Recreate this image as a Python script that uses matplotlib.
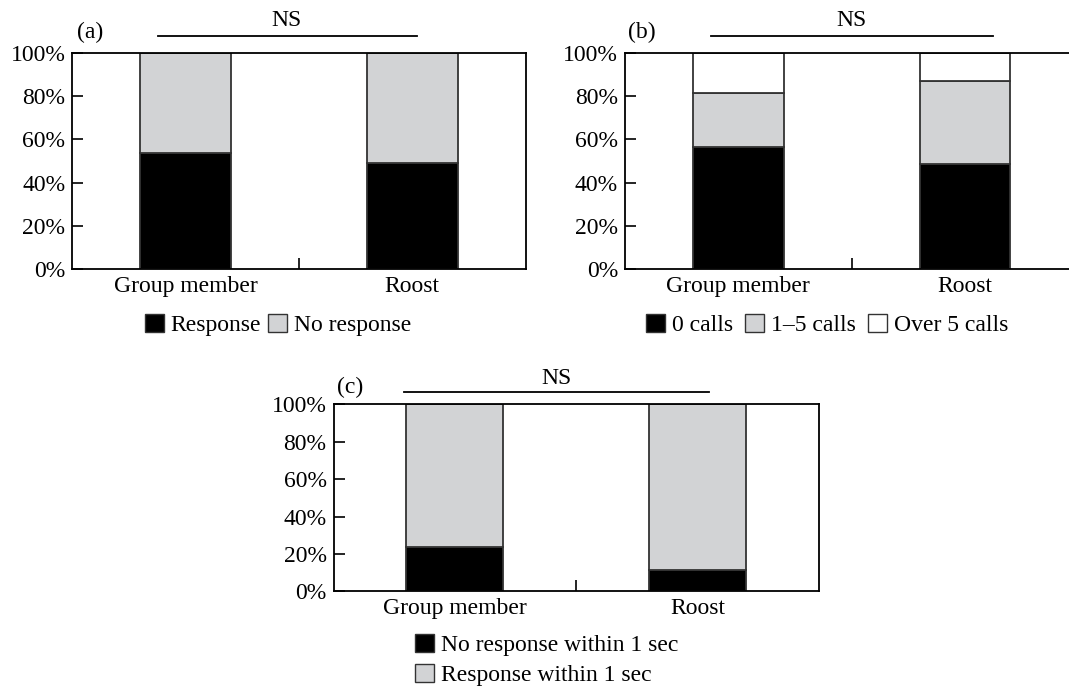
import matplotlib
matplotlib.use("Agg")
import matplotlib.pyplot as plt
import matplotlib.transforms as mtransforms
from matplotlib.patches import Patch
from matplotlib.ticker import FixedLocator, FuncFormatter

plt.rcParams["font.family"] = ["Liberation Serif", "DejaVu Serif"]
plt.rcParams["font.size"] = 17

# stimulus categories
categories = ["Group member", "Roost"]

# (a) response to playback (%)
a_response = [53.6, 49.2]
a_no_response = [46.4, 50.8]

# (b) number of calls (%)
b_zero = [56.5, 48.7]
b_one_to_five = [24.9, 38.3]
b_over_five = [18.6, 13.0]

# (c) response latency (%)
c_no_resp_1s = [23.5, 11.2]
c_resp_1s = [76.5, 88.8]

BLACK = "#000000"
GREY = "#d2d3d5"
WHITE = "#ffffff"
EDGE = "#333333"


def stack(ax, series, colors, width=0.4):
    x = range(len(categories))
    bottom = [0] * len(categories)
    for vals, col in zip(series, colors):
        ax.bar(x, vals, width, bottom=bottom, color=col, edgecolor=EDGE, linewidth=1.3)
        bottom = [b + v for b, v in zip(bottom, vals)]


def style_axes(ax):
    ax.set_xlim(-0.5, 1.5)
    ax.set_ylim(0, 100)
    ax.set_xticks([0, 1])
    ax.set_xticklabels(categories)
    ax.tick_params(axis="x", which="major", length=0, pad=5)
    ax.xaxis.set_minor_locator(FixedLocator([0.5]))
    ax.tick_params(axis="x", which="minor", direction="in", length=8, width=1.2)
    ax.set_yticks([0, 20, 40, 60, 80, 100])
    ax.yaxis.set_major_formatter(FuncFormatter(lambda v, p: f"{v:.0f}%"))
    ax.tick_params(axis="y", direction="in", length=8, width=1.2, pad=5)
    for s in ax.spines.values():
        s.set_linewidth(1.3)


def ns_bar(ax, x0, x1, y_line, x_text, y_text):
    trans = mtransforms.blended_transform_factory(ax.transData, ax.transAxes)
    ax.plot([x0, x1], [y_line, y_line], color="black", linewidth=1.3,
            transform=trans, clip_on=False)
    ax.text(x_text, y_text, "NS", transform=trans, ha="center", va="center")


fig = plt.figure(figsize=(10.69, 6.92), dpi=100)

# ---- (a)
ax_a = fig.add_axes([0.0676, 0.6117, 0.4241, 0.3113])
stack(ax_a, [a_response, a_no_response], [BLACK, GREY])
style_axes(ax_a)
ns_bar(ax_a, -0.12, 1.02, 1.082, 0.446, 1.15)
ax_a.text(0.039, 1.099, "(a)", transform=ax_a.transAxes, ha="center", va="center")
ax_a.legend(handles=[Patch(facecolor=BLACK, edgecolor=EDGE, label="Response"),
                     Patch(facecolor=GREY, edgecolor=EDGE, label="No response")],
            loc="center", bbox_to_anchor=(0.454, -0.261), ncol=2, frameon=False,
            handlelength=0.8, handleheight=0.8, handletextpad=0.3, columnspacing=0.3,
            borderaxespad=0, borderpad=0)

# ---- (b)
ax_b = fig.add_axes([0.5847, 0.6117, 0.4238, 0.3113])
stack(ax_b, [b_zero, b_one_to_five, b_over_five], [BLACK, GREY, WHITE])
style_axes(ax_b)
ns_bar(ax_b, -0.122, 1.124, 1.082, 0.499, 1.15)
ax_b.text(0.037, 1.099, "(b)", transform=ax_b.transAxes, ha="center", va="center")
ax_b.legend(handles=[Patch(facecolor=BLACK, edgecolor=EDGE, label="0 calls"),
                     Patch(facecolor=GREY, edgecolor=EDGE, label="1\u20135 calls"),
                     Patch(facecolor=WHITE, edgecolor=EDGE, label="Over 5 calls")],
            loc="center", bbox_to_anchor=(0.446, -0.261), ncol=3, frameon=False,
            handlelength=0.8, handleheight=0.8, handletextpad=0.3, columnspacing=0.5,
            borderaxespad=0, borderpad=0)

# ---- (c)
ax_c = fig.add_axes([0.312, 0.1455, 0.4538, 0.2702])
stack(ax_c, [c_no_resp_1s, c_resp_1s], [BLACK, GREY])
style_axes(ax_c)
ns_bar(ax_c, -0.208, 1.05, 1.067, 0.418, 1.14)
ax_c.text(0.035, 1.09, "(c)", transform=ax_c.transAxes, ha="center", va="center")
ax_c.legend(handles=[Patch(facecolor=BLACK, edgecolor=EDGE, label="No response within 1 sec"),
                     Patch(facecolor=GREY, edgecolor=EDGE, label="Response within 1 sec")],
            loc="center left", bbox_to_anchor=(0.168, -0.367), ncol=1, frameon=False,
            handlelength=0.8, handleheight=0.8, handletextpad=0.3, labelspacing=0.35,
            borderaxespad=0, borderpad=0)

fig.savefig("out.png", dpi=100)
